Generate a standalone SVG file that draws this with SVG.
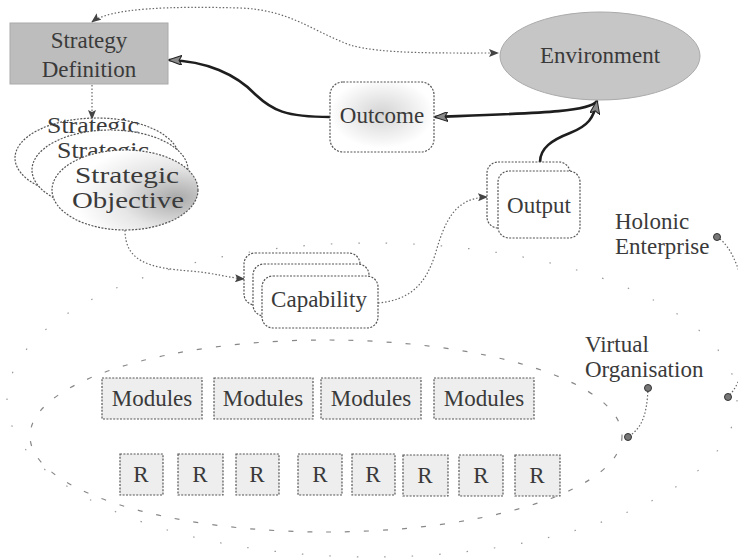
<svg xmlns="http://www.w3.org/2000/svg" width="738" height="558" viewBox="0 0 738 558" font-family="'Liberation Serif', 'Times New Roman', Times, serif">
  <defs>
    <style>
      .lbl { font-size: 23px; fill: #3a3a3a; }
      .mid { text-anchor: middle; }
      .node { stroke: #555; stroke-width: 1.2; stroke-dasharray: 2 1.4; }
      .plain { fill: #fff; }
      .box { fill: #eeeeee; }
      .dotline { fill: none; stroke: #666; stroke-width: 1.2; stroke-dasharray: 1.5 2; }
      .thick { fill: none; stroke: #1e1e1e; stroke-width: 2.6; }
      .boundary-inner { fill: none; stroke: #888; stroke-width: 1.2; stroke-dasharray: 5 14; }
      .boundary-outer { fill: none; stroke: #999; stroke-width: 1.2; stroke-dasharray: 1.5 26; }
      .pin { fill: #777; stroke: #333; stroke-width: 1; }
    </style>
    <marker id="tipSmall" viewBox="0 0 10 8" refX="9" refY="4" markerWidth="10" markerHeight="8" markerUnits="userSpaceOnUse" orient="auto-start-reverse">
      <path d="M0,0 L10,4 L0,8 L2,4 Z" fill="#444"/>
    </marker>
    <marker id="tipBig" viewBox="0 0 14 10" refX="13" refY="5" markerWidth="14" markerHeight="10" markerUnits="userSpaceOnUse" orient="auto-start-reverse">
      <path d="M0,0 L14,5 L0,10 L3,5 Z" fill="#8a8a8a" stroke="#222" stroke-width="1"/>
    </marker>
    <radialGradient id="objShade" cx="0.85" cy="0.6" r="0.7">
      <stop offset="0" stop-color="#a9a9a9"/>
      <stop offset="0.55" stop-color="#e6e6e6"/>
      <stop offset="1" stop-color="#ffffff"/>
    </radialGradient>
    <radialGradient id="outcomeShade" cx="0.5" cy="0.45" r="0.5">
      <stop offset="0" stop-color="#d4d4d4"/>
      <stop offset="1" stop-color="#ffffff"/>
    </radialGradient>
  </defs>

  <!-- enterprise and organisation boundaries -->
  <ellipse class="boundary-outer" cx="372" cy="400" rx="365" ry="157"/>
  <ellipse class="boundary-inner" cx="326" cy="436" rx="296" ry="96"/>

  <g id="connectors">
    <!-- strategy definition <-> environment -->
    <path class="dotline" d="M92,22 C110,8 170,6 240,8 C290,10 310,30 350,45 C380,54 440,53 498,53" marker-start="url(#tipSmall)" marker-end="url(#tipSmall)"/>
    <!-- strategy definition -> strategic objective -->
    <path class="dotline" d="M92,85 L92,119" marker-end="url(#tipSmall)"/>
    <!-- outcome -> strategy definition -->
    <path class="thick" d="M330,117 C285,117 272,110 256,95 C236,74 206,61 169,60" marker-end="url(#tipBig)"/>
    <!-- environment -> outcome -->
    <path class="thick" d="M597,101 C590,112 540,113 435,117" marker-end="url(#tipBig)"/>
    <!-- output -> environment -->
    <path class="thick" d="M540,162 C540,148 552,140 570,133 C588,126 594,118 597,101" marker-end="url(#tipBig)"/>
    <!-- strategic objective -> capability -->
    <path class="dotline" d="M125,230 C125,262 150,268 190,271 C215,273 230,278 244,279" marker-end="url(#tipSmall)"/>
    <!-- capability -> output -->
    <path class="dotline" d="M378,303 C410,300 425,285 435,255 C445,220 455,198 487,197" marker-end="url(#tipSmall)"/>
    <!-- label pins -->
    <path class="dotline" d="M648,388 C647,415 642,428 628,437"/>
    <path class="dotline" d="M717,237 C748,255 762,362 728,397"/>
  </g>

  <g id="strategy-definition">
    <rect x="10" y="23" width="158" height="61" fill="#bdbdbd" stroke="#aaa" stroke-width="1"/>
    <text class="lbl mid" x="89" y="48">Strategy</text>
    <text class="lbl mid" x="89" y="77">Definition</text>
  </g>

  <g id="environment">
    <ellipse cx="600" cy="56" rx="100" ry="44" fill="#c6c6c6" stroke="#aaa" stroke-width="1"/>
    <text class="lbl mid" x="600" y="63">Environment</text>
  </g>

  <g id="outcome">
    <rect class="node" x="330" y="82" width="104" height="70" rx="13" fill="url(#outcomeShade)"/>
    <text class="lbl mid" x="382" y="123">Outcome</text>
  </g>

  <g id="strategic-objective">
    <ellipse class="node plain" cx="97" cy="158" rx="82" ry="40"/>
    <text class="lbl" x="47" y="133" font-size="18" textLength="92" lengthAdjust="spacingAndGlyphs">Strategic</text>
    <ellipse class="node plain" cx="110" cy="170" rx="78" ry="40"/>
    <text class="lbl" x="57" y="158" font-size="18" textLength="92" lengthAdjust="spacingAndGlyphs">Strategic</text>
    <ellipse class="node" cx="125" cy="190" rx="73" ry="40" fill="url(#objShade)"/>
    <text class="lbl" x="75" y="183" textLength="104" lengthAdjust="spacingAndGlyphs">Strategic</text>
    <text class="lbl" x="72" y="208" textLength="112" lengthAdjust="spacingAndGlyphs">Objective</text>
  </g>

  <g id="capability">
    <rect class="node plain" x="244" y="253" width="116" height="52" rx="11"/>
    <rect class="node plain" x="253" y="264" width="116" height="52" rx="11"/>
    <rect class="node plain" x="262" y="276" width="116" height="52" rx="11"/>
    <text class="lbl mid" x="319" y="307">Capability</text>
  </g>

  <g id="output">
    <rect class="node plain" x="487" y="162" width="83" height="66" rx="11"/>
    <rect class="node plain" x="498" y="171" width="82" height="67" rx="11"/>
    <text class="lbl mid" x="539" y="213">Output</text>
  </g>

  <g id="modules">
    <rect class="node box" x="102" y="378" width="100" height="41"/>
    <text class="lbl mid" x="152" y="406">Modules</text>
    <rect class="node box" x="214" y="378" width="99" height="41"/>
    <text class="lbl mid" x="263" y="406">Modules</text>
    <rect class="node box" x="321" y="378" width="100" height="41"/>
    <text class="lbl mid" x="371" y="406">Modules</text>
    <rect class="node box" x="434" y="378" width="100" height="41"/>
    <text class="lbl mid" x="484" y="406">Modules</text>
  </g>

  <g id="resources">
    <rect class="node box" x="120" y="454" width="43" height="41"/>
    <text class="lbl mid" x="141" y="482">R</text>
    <rect class="node box" x="178" y="454" width="45" height="41"/>
    <text class="lbl mid" x="200" y="482">R</text>
    <rect class="node box" x="236" y="454" width="43" height="41"/>
    <text class="lbl mid" x="257" y="482">R</text>
    <rect class="node box" x="298" y="454" width="44" height="41"/>
    <text class="lbl mid" x="320" y="482">R</text>
    <rect class="node box" x="352" y="454" width="43" height="41"/>
    <text class="lbl mid" x="373" y="482">R</text>
    <rect class="node box" x="403" y="455" width="45" height="41"/>
    <text class="lbl mid" x="425" y="483">R</text>
    <rect class="node box" x="459" y="455" width="44" height="41"/>
    <text class="lbl mid" x="481" y="483">R</text>
    <rect class="node box" x="515" y="455" width="45" height="41"/>
    <text class="lbl mid" x="537" y="483">R</text>
  </g>

  <g id="holonic-enterprise">
    <text class="lbl" x="615" y="229">Holonic</text>
    <text class="lbl" x="615" y="254">Enterprise</text>
    <circle class="pin" cx="717" cy="237" r="3.5"/>
    <circle class="pin" cx="728" cy="397" r="3.5"/>
  </g>

  <g id="virtual-organisation">
    <text class="lbl" x="585" y="352">Virtual</text>
    <text class="lbl" x="585" y="377">Organisation</text>
    <circle class="pin" cx="648" cy="388" r="3.5"/>
    <circle class="pin" cx="628" cy="437" r="3.5"/>
  </g>
</svg>
